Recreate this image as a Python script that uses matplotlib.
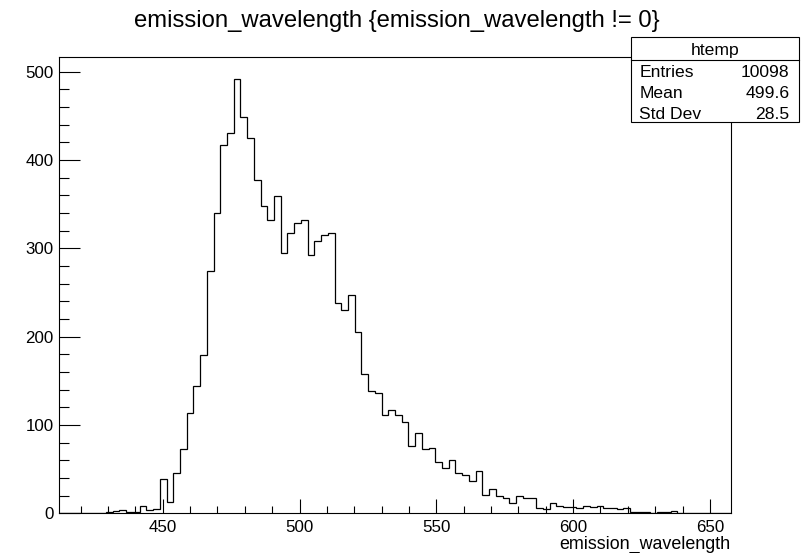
import numpy as np
import matplotlib
matplotlib.use("Agg")
import matplotlib.pyplot as plt
from matplotlib.patches import Rectangle
from matplotlib.ticker import MultipleLocator

plt.rcParams['font.family'] = ['Liberation Sans', 'DejaVu Sans']

# histogram "htemp": 100 bins
x_min, x_max = 412.1, 657.7
counts = [0, 0, 0, 0, 0, 0, 0, 1, 3, 4,
          2, 1, 8, 4, 5, 39, 13, 46, 73, 113,
          144, 179, 274, 340, 417, 431, 492, 449, 425, 377,
          348, 332, 359, 295, 317, 329, 332, 293, 308, 315,
          317, 238, 230, 247, 205, 158, 138, 136, 111, 117,
          111, 103, 76, 91, 73, 74, 58, 51, 60, 46,
          43, 37, 48, 21, 28, 20, 17, 12, 20, 17,
          17, 6, 5, 12, 8, 7, 7, 6, 8, 7,
          8, 6, 6, 5, 6, 2, 1, 1, 0, 1,
          1, 3, 0, 0, 0, 0, 0, 0, 0, 0]

title = "emission_wavelength {emission_wavelength != 0}"
x_label = "emission_wavelength"
stats_name = "htemp"
stats_labels = ["Entries", "Mean", "Std Dev"]
stats_values = ["10098", "499.6", "28.5"]

W, H = 808, 553
fig = plt.figure(figsize=(W / 100, H / 100), dpi=100)
ax = fig.add_axes([59 / W, 1 - 513.3 / H, (731 - 59) / W, (513.3 - 57) / H])

edges = np.linspace(x_min, x_max, len(counts) + 1)
ax.stairs(counts, edges, color='black', lw=0.9)

ax.set_xlim(x_min, x_max)
ax.set_ylim(0, 1.05 * max(counts))

for s in ax.spines.values():
    s.set_linewidth(0.8)

ax.xaxis.set_major_locator(MultipleLocator(50))
ax.xaxis.set_minor_locator(MultipleLocator(10))
ax.yaxis.set_major_locator(MultipleLocator(100))
ax.yaxis.set_minor_locator(MultipleLocator(20))
ax.tick_params(axis='x', which='major', direction='in', length=9.9, width=0.8,
               labelsize=12.2, pad=5)
ax.tick_params(axis='x', which='minor', direction='in', length=5, width=0.8)
ax.tick_params(axis='y', which='major', direction='in', length=15, width=0.8,
               labelsize=12.2, pad=4)
ax.tick_params(axis='y', which='minor', direction='in', length=7.2, width=0.8)

fig.text(396.5 / W, 1 - 26.7 / H, title, ha='center', va='baseline', fontsize=17.2)
fig.text(730 / W, 1 - 549 / H, x_label, ha='right', va='baseline', fontsize=12.9)

# stats box
bx0, bx1, by0, by1 = 630.7, 799, 37.3, 122
fig.patches.append(Rectangle((bx0 / W, 1 - by1 / H), (bx1 - bx0) / W, (by1 - by0) / H,
                             transform=fig.transFigure, facecolor='white',
                             edgecolor='black', lw=0.8, zorder=5))
fig.lines.append(plt.Line2D([bx0 / W, bx1 / W], [1 - 60 / H, 1 - 60 / H],
                            transform=fig.transFigure, color='black', lw=0.8, zorder=6))
fig.text((bx0 + bx1) / 2 / W, 1 - 55 / H, stats_name, ha='center', va='baseline',
         fontsize=12.6, zorder=7)
for i, (lab, val) in enumerate(zip(stats_labels, stats_values)):
    yb = 1 - (77 + 21 * i) / H
    fig.text(639.3 / W, yb, lab, ha='left', va='baseline', fontsize=12.6, zorder=7)
    fig.text(789.3 / W, yb, val, ha='right', va='baseline', fontsize=12.6, zorder=7)

fig.savefig("out.png", dpi=100)
